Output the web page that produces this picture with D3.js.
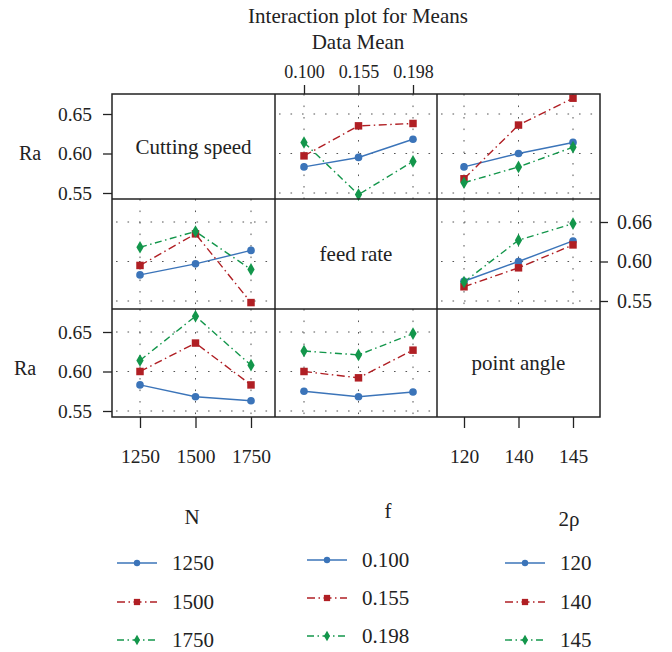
<!DOCTYPE html>
<html>
<head>
<meta charset="utf-8">
<script src="https://cdn.jsdelivr.net/npm/d3@7"></script>
<style>
  body { margin: 0; background: #fff; }
  svg { display: block; font-family: "Liberation Serif", "DejaVu Serif", serif; }
  .grid line { stroke: #555; stroke-width: 1; stroke-dasharray: 1.6 9.9; }
  .axis path { display: none; }
  .axis line { stroke: #222; stroke-width: 1.3; }
</style>
</head>
<body>
<div id="chart"></div>
<script>
// factor levels
const nLevels = ["1250", "1500", "1750"];
const fLevels = ["0.100", "0.155", "0.198"];
const rhoLevels = ["120", "140", "145"];
const factorNames = ["Cutting speed", "feed rate", "point angle"];
const legendTitles = ["N", "f", "2ρ"];

// mean Ra: one row per trace level, one value per x level
const raByNf = [[0.583, 0.595, 0.618], [0.597, 0.635, 0.638], [0.614, 0.548, 0.590]];
const raByNrho = [[0.583, 0.600, 0.614], [0.568, 0.636, 0.670], [0.563, 0.583, 0.608]];
const raByFrho = [[0.575, 0.600, 0.626], [0.568, 0.592, 0.621], [0.574, 0.627, 0.648]];

const raTicks = [0.55, 0.60, 0.65];
const raTickLabels = ["0.55", "0.60", "0.65"];
const raTickLabelsRight = ["0.55", "0.60", "0.66"];

const width = 672, height = 652;
const serif = '"Liberation Serif", "DejaVu Serif", serif';
const levels = [nLevels, fLevels, rhoLevels];
const colX = [112, 275, 437, 600];
const rowY = [94, 199, 309, 417];
const xRange = [[140, 251], [304, 413], [464, 573]];
const yRange = [[193, 114], [301, 222], [411, 332]]; // pixel of 0.55 / 0.65 per row

const colors = ["#3b74b9", "#b01f24", "#13964b"];
const dashes = [null, "8 3.5 1.5 3.5", "7 3.5 1.5 3.5"];
const symbols = [d3.symbolCircle, d3.symbolSquare, d3.symbolDiamond];
const symSizes = [46, 56, 46];

const transpose = m => m[0].map((_, j) => m.map(r => r[j]));

// means[row][col] -> matrix [trace level][x level]
const means = [
  [null, raByNf, raByNrho],
  [transpose(raByNf), null, raByFrho],
  [transpose(raByNrho), transpose(raByFrho), null]
];

const svg = d3.select("#chart").append("svg")
  .attr("width", width).attr("height", height);

svg.append("text").attr("x", 358).attr("y", 23).attr("text-anchor", "middle")
  .attr("font-size", 21).attr("fill", "#222").text("Interaction plot for Means");
svg.append("text").attr("x", 358).attr("y", 49).attr("text-anchor", "middle")
  .attr("font-size", 21).attr("fill", "#222").text("Data Mean");

const xScales = levels.map((lv, j) => d3.scalePoint().domain(lv).range(xRange[j]));
const yScales = yRange.map(r => d3.scaleLinear().domain([0.55, 0.65]).range(r));

for (let i = 0; i < 3; i++) {
  for (let j = 0; j < 3; j++) {
    const x0 = colX[j], x1 = colX[j + 1], y0 = rowY[i], y1 = rowY[i + 1];
    const g = svg.append("g");
    if (i === j) {
      g.append("text").attr("x", (x0 + x1) / 2).attr("y", (y0 + y1) / 2 + 7)
        .attr("text-anchor", "middle").attr("font-size", 21).attr("fill", "#222")
        .text(factorNames[i]);
      continue;
    }
    const x = xScales[j], y = yScales[i];
    const grid = g.append("g").attr("class", "grid");
    grid.selectAll(".v").data(levels[j]).join("line")
      .attr("x1", d => x(d)).attr("x2", d => x(d)).attr("y1", y0).attr("y2", y1);
    grid.selectAll(".h").data(raTicks).join("line").attr("class", "h")
      .attr("x1", x0 + 4).attr("x2", x1).attr("y1", d => y(d)).attr("y2", d => y(d));

    const line = d3.line().x((d, k) => x(levels[j][k])).y(d => y(d));
    const m = means[i][j];
    m.forEach((vals, t) => {
      g.append("path").datum(vals).attr("d", line)
        .attr("fill", "none").attr("stroke", colors[t]).attr("stroke-width", 1.4)
        .attr("stroke-dasharray", dashes[t]);
      g.selectAll(null).data(vals).join("path")
        .attr("transform", (d, k) => `translate(${x(levels[j][k])},${y(d)})`)
        .attr("d", d3.symbol(symbols[t], symSizes[t]))
        .attr("fill", colors[t]);
    });
  }
}

// panel frames
const frame = svg.append("g").attr("fill", "none").attr("stroke", "#222").attr("stroke-width", 1.5);
frame.append("rect").attr("x", colX[0]).attr("y", rowY[0])
  .attr("width", colX[3] - colX[0]).attr("height", rowY[3] - rowY[0]);
colX.slice(1, 3).forEach(cx => frame.append("line").attr("x1", cx).attr("x2", cx).attr("y1", rowY[0]).attr("y2", rowY[3]));
rowY.slice(1, 3).forEach(ry => frame.append("line").attr("y1", ry).attr("y2", ry).attr("x1", colX[0]).attr("x2", colX[3]));

// axes
const fmt = labels => (d, k) => labels[k];
const styleAxis = size => g => {
  g.attr("font-family", serif).attr("font-size", size);
  g.selectAll("text").style("font-family", serif).style("font-size", size + "px").attr("fill", "#222");
};
svg.append("g").attr("class", "axis").attr("transform", `translate(${colX[0]},0)`)
  .call(d3.axisLeft(yScales[0]).tickValues(raTicks).tickFormat(fmt(raTickLabels)).tickSize(9).tickPadding(11))
  .call(styleAxis(19.5));
svg.append("g").attr("class", "axis").attr("transform", `translate(${colX[0]},0)`)
  .call(d3.axisLeft(yScales[2]).tickValues(raTicks).tickFormat(fmt(raTickLabels)).tickSize(9).tickPadding(11))
  .call(styleAxis(19.5));
svg.append("g").attr("class", "axis").attr("transform", `translate(${colX[3]},0)`)
  .call(d3.axisRight(yScales[1]).tickValues(raTicks).tickFormat(fmt(raTickLabelsRight)).tickSize(8).tickPadding(9))
  .call(styleAxis(20));
svg.append("g").attr("class", "axis").attr("transform", `translate(0,${rowY[0]})`)
  .call(d3.axisTop(xScales[1]).tickSize(9).tickPadding(7))
  .call(styleAxis(18));
svg.append("g").attr("class", "axis").attr("transform", `translate(0,${rowY[3]})`)
  .call(d3.axisBottom(xScales[0]).tickSize(11).tickPadding(21))
  .call(styleAxis(19.5));
svg.append("g").attr("class", "axis").attr("transform", `translate(0,${rowY[3]})`)
  .call(d3.axisBottom(xScales[2]).tickSize(11).tickPadding(21))
  .call(styleAxis(19.5));

svg.append("text").attr("x", 30).attr("y", 160).attr("text-anchor", "middle")
  .attr("font-size", 20).attr("fill", "#222").text("Ra");
svg.append("text").attr("x", 25).attr("y", 375).attr("text-anchor", "middle")
  .attr("font-size", 20).attr("fill", "#222").text("Ra");

// legends
const legX = [117, 307, 505];
const legRowY = [[563, 602, 640], [560, 598, 636], [563, 602, 640]];
const legTitleXY = [[192, 524], [388, 518], [569, 526]];
levels.forEach((lv, c) => {
  const lg = svg.append("g");
  lg.append("text").attr("x", legTitleXY[c][0]).attr("y", legTitleXY[c][1])
    .attr("text-anchor", "middle").attr("font-size", 21).attr("fill", "#222").text(legendTitles[c]);
  lv.forEach((name, t) => {
    const yy = legRowY[c][t];
    lg.append("line").attr("x1", legX[c]).attr("x2", legX[c] + 40).attr("y1", yy).attr("y2", yy)
      .attr("stroke", colors[t]).attr("stroke-width", 1.4).attr("stroke-dasharray", dashes[t]);
    lg.append("path").attr("transform", `translate(${legX[c] + 20},${yy})`)
      .attr("d", d3.symbol(symbols[t], symSizes[t] * 0.7)).attr("fill", colors[t]);
    lg.append("text").attr("x", legX[c] + 55).attr("y", yy + 7)
      .attr("font-size", 21).attr("fill", "#222").text(name);
  });
});
</script>
</body>
</html>
